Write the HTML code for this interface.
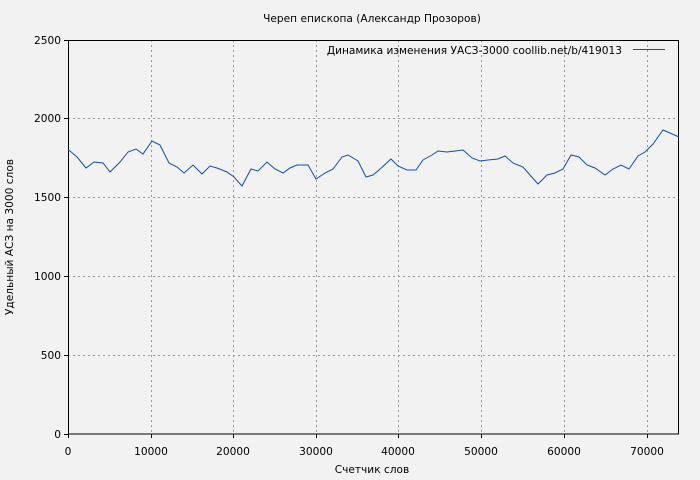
<!DOCTYPE html>
<html><head><meta charset="utf-8"><style>
html,body{margin:0;padding:0;background:#f2f2f2;}
svg{display:block;font-family:"DejaVu Sans","Liberation Sans",sans-serif;font-size:10.6px;}
</style></head><body>
<svg width="700" height="480" viewBox="0 0 700 480" xmlns="http://www.w3.org/2000/svg">
<rect width="700" height="480" fill="#f2f2f2"/>
<g stroke="#999" stroke-width="1" stroke-dasharray="2,3">
<line x1="151.5" y1="40" x2="151.5" y2="434"/>
<line x1="233.5" y1="40" x2="233.5" y2="434"/>
<line x1="316.5" y1="40" x2="316.5" y2="434"/>
<line x1="398.5" y1="40" x2="398.5" y2="434"/>
<line x1="481.5" y1="40" x2="481.5" y2="434"/>
<line x1="564.5" y1="40" x2="564.5" y2="434"/>
<line x1="647.5" y1="40" x2="647.5" y2="434"/>
<line x1="68" y1="118.5" x2="679" y2="118.5"/>
<line x1="68" y1="197.5" x2="679" y2="197.5"/>
<line x1="68" y1="276.5" x2="679" y2="276.5"/>
<line x1="68" y1="355.5" x2="679" y2="355.5"/>
</g>
<rect x="68.5" y="40.5" width="610" height="393.5" fill="none" stroke="#000" stroke-width="1"/>
<g stroke="#000">
<line x1="64" y1="40.5" x2="68" y2="40.5"/><line x1="64" y1="118.5" x2="68" y2="118.5"/>
<line x1="64" y1="197.5" x2="68" y2="197.5"/><line x1="64" y1="276.5" x2="68" y2="276.5"/>
<line x1="64" y1="355.5" x2="68" y2="355.5"/><line x1="64" y1="434.5" x2="68" y2="434.5"/>
<line x1="68.5" y1="434" x2="68.5" y2="438"/><line x1="151.5" y1="434" x2="151.5" y2="438"/>
<line x1="233.5" y1="434" x2="233.5" y2="438"/><line x1="316.5" y1="434" x2="316.5" y2="438"/>
<line x1="398.5" y1="434" x2="398.5" y2="438"/><line x1="481.5" y1="434" x2="481.5" y2="438"/>
<line x1="564.5" y1="434" x2="564.5" y2="438"/><line x1="647.5" y1="434" x2="647.5" y2="438"/>
</g>
<g fill="#000" text-anchor="end">
<text x="61" y="44">2500</text><text x="61" y="122">2000</text><text x="61" y="201">1500</text>
<text x="61" y="280">1000</text><text x="61" y="359">500</text><text x="61" y="438">0</text>
</g>
<g fill="#000" text-anchor="middle">
<text x="68" y="455">0</text><text x="151" y="455">10000</text><text x="233" y="455">20000</text>
<text x="316" y="455">30000</text><text x="398" y="455">40000</text><text x="481" y="455">50000</text>
<text x="564" y="455">60000</text><text x="647" y="455">70000</text>
<text x="372" y="473">Счетчик слов</text>
<text x="372" y="22">Череп епископа (Александр Прозоров)</text>
<text transform="translate(13,237) rotate(-90)">Удельный АСЗ на 3000 слов</text>
</g>
<text x="622" y="54" text-anchor="end" fill="#000">Динамика изменения УАСЗ-3000  coollib.net/b/419013</text>
<line x1="633" y1="49.5" x2="665" y2="49.5" stroke="#0b4fb5" stroke-width="1"/>
<polyline fill="none" stroke="#0b4fb5" stroke-width="1" points="68,150 70,151 77,157 86,168 94,162 103,163 110,172 120,162 128,152 136,149 143,154 152,141 160,145 169,163 177,167 184,173 193,165 202,174 210,166 217,168 227,172 234,177 242,186 251,169 258,171 267,162 275,169 283,173 290,168 297,165 308,165 316,179 325,173 333,169 342,157 348,155 358,161 366,177 373,175 379,170 391,159 398,166 407,170 416,170 423,160 432,155 438,151 447,152 455,151 463,150 472,158 480,161 488,160 498,159 505,156 513,163 523,167 530,175 538,184 547,175 555,173 563,169 571,155 579,157 587,165 595,168 605,175 613,169 621,165 629,169 638,156 645,152 653,144 663,130 670,133 679,137"/>
</svg>
</body></html>
